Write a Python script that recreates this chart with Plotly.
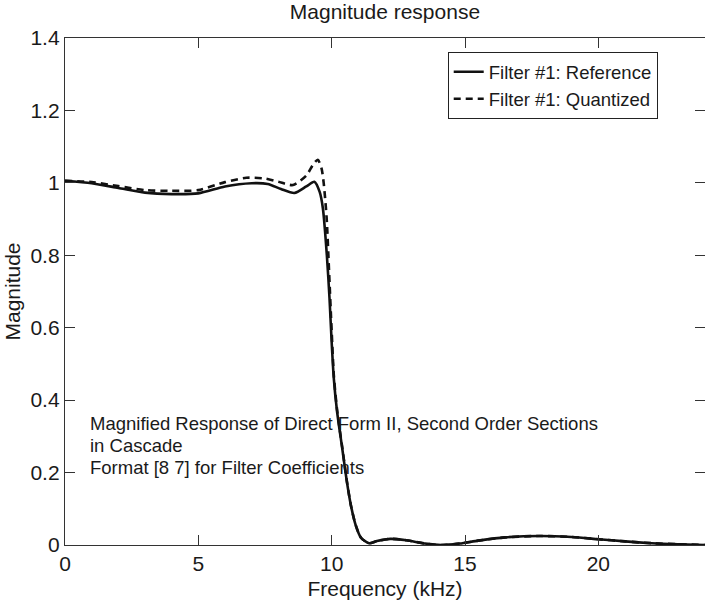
import plotly.graph_objects as go

# Reference (solid) magnitude response
ref_freq = [0, 1.0, 2.0, 3.0, 4.0, 5.0, 6.0, 7.0, 7.6, 8.1, 8.6, 9.05, 9.35, 9.55, 9.67,
            9.82, 9.92, 10.0, 10.08, 10.2, 10.4, 10.57, 10.72, 10.9, 11.1, 11.4, 11.7,
            12.2, 12.8, 13.5, 14.1, 14.8, 15.5, 16.5, 17.8, 19.0, 20.0, 21.0, 22.0, 23.0, 24.0]
ref_mag = [1.006, 0.999, 0.986, 0.973, 0.969, 0.971, 0.990, 0.999, 0.997, 0.983, 0.972, 0.990,
           1.003, 0.975, 0.930, 0.800, 0.680, 0.560, 0.460, 0.370, 0.265, 0.175, 0.110, 0.055,
           0.020, 0.005, 0.011, 0.017, 0.013, 0.004, 0.000, 0.004, 0.012, 0.021, 0.025, 0.022,
           0.016, 0.010, 0.005, 0.002, 0.000]

# Quantized (dashed) magnitude response
qnt_freq = [0, 1.0, 2.0, 3.0, 4.0, 5.0, 6.0, 6.8, 7.5, 8.0, 8.55, 9.05, 9.3, 9.48, 9.62,
            9.7, 9.81, 9.9, 10.0, 10.08, 10.2, 10.4, 10.57, 10.72, 10.9, 11.1, 11.4, 11.7,
            12.2, 12.8, 13.5, 14.1, 14.8, 15.5, 16.5, 17.8, 19.0, 20.0, 21.0, 22.0, 23.0, 24.0]
qnt_mag = [1.006, 1.002, 0.991, 0.980, 0.978, 0.980, 1.002, 1.014, 1.012, 1.003, 0.994, 1.020,
           1.050, 1.064, 1.040, 1.000, 0.905, 0.760, 0.590, 0.470, 0.375, 0.268, 0.176, 0.110,
           0.055, 0.020, 0.005, 0.011, 0.017, 0.013, 0.004, 0.000, 0.004, 0.012, 0.021, 0.025,
           0.022, 0.016, 0.010, 0.005, 0.002, 0.000]

x_ticks = [0, 5, 10, 15, 20]
y_ticks = [0, 0.2, 0.4, 0.6, 0.8, 1.0, 1.2, 1.4]
y_tick_text = ["0", "0.2", "0.4", "0.6", "0.8", "1", "1.2", "1.4"]

series_names = ["Filter #1: Reference", "Filter #1: Quantized"]
note_lines = ["Magnified Response of Direct Form II, Second Order Sections",
              "in Cascade",
              "Format [8 7] for Filter Coefficients"]

FONT = "Liberation Sans, Arial, Helvetica, sans-serif"
TXT = "#1a1a1a"
AX = "#333333"

fig = go.Figure()
fig.add_trace(go.Scatter(x=ref_freq, y=ref_mag, mode="lines", name=series_names[0],
                         line=dict(color="#111111", width=2.6, shape="spline", smoothing=0.7)))
fig.add_trace(go.Scatter(x=qnt_freq, y=qnt_mag, mode="lines", name=series_names[1],
                         line=dict(color="#111111", width=2.6, dash="7px,5px",
                                   shape="spline", smoothing=0.7)))

for i, (txt, yp) in enumerate(zip(note_lines, [0.2406, 0.197, 0.152])):
    fig.add_annotation(text=txt, x=0.036, y=yp, xref="paper", yref="paper",
                       xanchor="left", yanchor="middle", showarrow=False,
                       font=dict(family=FONT, size=18.5, color=TXT))

axis_common = dict(showline=True, linecolor=AX, linewidth=1.3, mirror="ticks",
                   ticks="inside", ticklen=10, tickwidth=1.1, tickcolor=AX,
                   showgrid=False, zeroline=False, automargin=False,
                   tickfont=dict(family=FONT, size=21, color=TXT))

fig.update_layout(
    width=705, height=610,
    margin=dict(l=65, r=0, t=38, b=65),
    paper_bgcolor="white", plot_bgcolor="white",
    title=dict(text="Magnitude response", x=0.546, xanchor="center",
               y=1 - 12 / 610, yanchor="middle", yref="container",
               font=dict(family=FONT, size=21, color=TXT)),
    xaxis=dict(range=[0, 24], tickvals=x_ticks, ticktext=[str(v) for v in x_ticks],
               title=dict(text="Frequency (kHz)", standoff=6,
                          font=dict(family=FONT, size=21, color=TXT)),
               **axis_common),
    yaxis=dict(range=[0, 1.4], tickvals=y_ticks, ticktext=y_tick_text,
               title=dict(text="Magnitude", standoff=4,
                          font=dict(family=FONT, size=21, color=TXT)),
               **axis_common),
    legend=dict(x=0.598, y=0.972, xanchor="left", yanchor="top",
                bgcolor="white", bordercolor="#222222", borderwidth=1,
                font=dict(family=FONT, size=18.5, color=TXT),
                itemwidth=30, tracegroupgap=0),
    showlegend=True,
)

fig.write_html("out.html",
               config={"displayModeBar": False},
               post_script="document.body.style.margin='0';document.body.style.overflow='hidden';")
